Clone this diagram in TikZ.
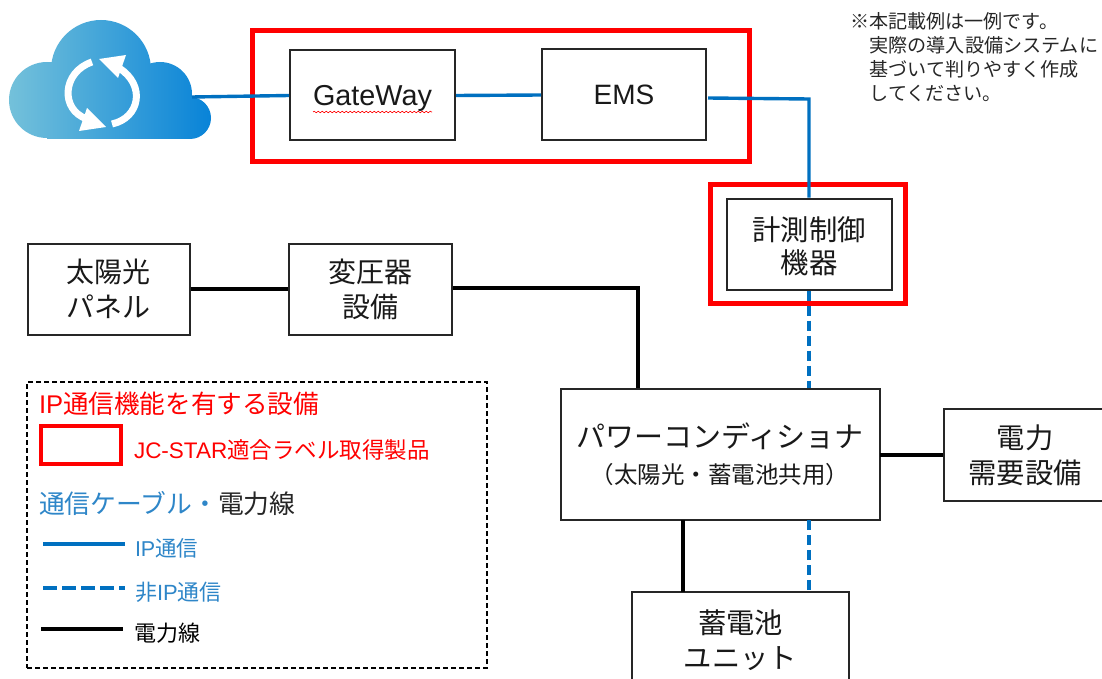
\documentclass[tikz,border=0pt]{standalone}
\usepackage{fontspec}
\setmainfont{Noto Sans CJK JP}
\newfontfamily\ltn{Liberation Sans}
\usetikzlibrary{decorations.pathmorphing}
\newcommand{\fs}[2]{\fontsize{#1pt}{#2pt}\selectfont}
\definecolor{ipblue}{HTML}{0070C0}
\definecolor{txtblue}{HTML}{2E86C8}
\definecolor{jcred}{HTML}{FF0000}
\tikzset{
  box/.style={draw=black!85,line width=2pt,fill=white,align=center,inner sep=0pt,text=black!90},
  redbox/.style={draw=jcred,line width=5pt,inner sep=0pt},
  ipline/.style={draw=ipblue,line width=3.4pt},
  nonip/.style={draw=ipblue,line width=3.4pt,dash pattern=on 10pt off 5pt},
  power/.style={draw=black,line width=3.4pt},
  lbl/.style={anchor=west,inner sep=0pt,outer sep=0pt},
  note/.style={lbl,text=black!85},
}
\begin{document}
\begin{tikzpicture}[x=1pt,y=-1pt]
\useasboundingbox (0,0) rectangle (1102,679);
\clip (0,0) rectangle (1102,679);
% cloud
\shade[left color={rgb,255:red,116;green,193;blue,218},right color={rgb,255:red,8;green,131;blue,216}]
  (101,70) circle[radius=50pt] (47,100) circle[radius=38pt] (160,94) circle[radius=32pt]
  (190,118) circle[radius=21pt]
  (47,139) -- (190,139) -- (190,90) -- (47,90) -- cycle;
\draw[white,line width=7pt] (92,62) .. controls (62,72) and (60,110) .. (87,119);
\draw[white,line width=7pt] (119,68) .. controls (146,85) and (140,118) .. (112,124);
\fill[white] (99,59) -- (126,55) -- (118,78) -- cycle;
\fill[white] (79,131) -- (106,127) -- (87,108) -- cycle;
\coordinate (cloudR) at (192,97);
% boxes
\node[redbox,minimum width=497pt,minimum height=131pt] (redtop) at (501,96) {};
\node[redbox,minimum width=195pt,minimum height=119pt] (redmeas) at (808,244) {};
\node[box,minimum width=165pt,minimum height=90pt,font=\fs{28.8}{35}\ltn] (gw) at (372.5,95.5) {\raisebox{-10pt}[0pt][0pt]{GateWay}};
\node[box,minimum width=164pt,minimum height=91pt,font=\fs{28}{35}\ltn] (ems) at (624,95) {EMS};
\node[box,minimum width=165pt,minimum height=91pt] (meas) at (809,244) {};
\node[inner sep=0pt,align=center,font=\fs{28.4}{33},text=black!90] (meastxt) at (809,246) {計測制御\\機器};
\node[box,minimum width=162pt,minimum height=91pt,font=\fs{28}{35}] (panel) at (108.5,289) {太陽光\\パネル};
\node[box,minimum width=163pt,minimum height=91pt,font=\fs{28}{35}] (trans) at (370,289) {変圧器\\設備};
\node[box,minimum width=319pt,minimum height=131pt,font=\fs{29}{36}] (pcs) at (720,454) {パワーコンディショナ\\{\fs{23.5}{33}（太陽光・蓄電池共用）}};
\node[box,minimum width=163pt,minimum height=92pt] (demand) at (1025,454.5) {};
\node[inner sep=0pt,align=center,font=\fs{28.3}{35},text=black!90] (demandtxt) at (1025,455.5) {電力\\需要設備};
\node[box,minimum width=217pt,minimum height=96pt,font=\fs{28.3}{35}] (batt) at (740.5,640) {蓄電池\\ユニット};
% wavy underline of GateWay
\coordinate (wavyL) at (313,112);
\coordinate (wavyR) at (432,112);
\draw[jcred,line width=0.6pt,decorate,decoration={snake,amplitude=0.8pt,segment length=4pt}] (wavyL) -- (wavyR);
% junctions
\coordinate (emsOut) at (708,98);
\coordinate (corner1) at (809,99);
\coordinate (transOut) at (453,288);
\coordinate (corner2) at (638,288);
\coordinate (pcsT) at (638,388);
\coordinate (pcsTd) at (809,388);
\coordinate (pcsBp) at (683,520);
\coordinate (battP) at (683,592);
\coordinate (pcsBd) at (809,520);
\coordinate (battD) at (809,592);
\coordinate (pcsR) at (880,455);
\coordinate (demL) at (943,455);
% connectors
\draw[ipline] (cloudR) -- (gw.west);
\draw[ipline] (gw.east) -- (ems.west);
\draw[ipline] (emsOut) -- (corner1) -- (meas.north);
\draw[nonip] (meas.south) -- (pcsTd);
\draw[nonip] (pcsBd) -- (battD);
\draw[power] (panel.east) -- (trans.west);
\draw[power] (transOut) -- (corner2) -- (pcsT);
\draw[power] (pcsR) -- (demL);
\draw[power] (pcsBp) -- (battP);
% note
\node[note] (n1) at (850,21) {\fs{19.1}{24}※本記載例は一例です。};
\node[note] (n2) at (869.5,45) {\fs{19.1}{24}実際の導入設備システムに};
\node[note] (n3) at (869.5,69) {\fs{19.1}{24}基づいて判りやすく作成};
\node[note] (n4) at (869.5,93) {\fs{19.1}{24}してください。};
% legend
\node[draw=black,line width=2pt,dash pattern=on 5pt off 3pt,minimum width=460pt,minimum height=286pt,inner sep=0pt] (legend) at (257,525) {};
\node[lbl,text=jcred] (l1) at (39,404) {\fs{25.6}{30}{\ltn IP}通信機能を有する設備};
\node[draw=jcred,line width=4pt,minimum width=80pt,minimum height=38pt,inner sep=0pt] (lred) at (80.5,445) {};
\node[lbl,text=jcred] (l2) at (134,450) {\fs{22.5}{26}{\ltn JC-STAR}適合ラベル取得製品};
\node[lbl] (l3) at (39,504) {\fs{25.8}{30}\textcolor{txtblue}{通信ケーブル・}\textcolor{black!85}{電力線}};
\coordinate (a1) at (43,544); \coordinate (a2) at (125,544);
\coordinate (b1) at (43,588); \coordinate (b2) at (125,588);
\coordinate (c1) at (41,629); \coordinate (c2) at (123,629);
\draw[ipline,line width=4pt] (a1) -- (a2);
\draw[nonip,line width=4pt,dash pattern=on 14pt off 5pt] (b1) -- (b2);
\draw[power,line width=4pt] (c1) -- (c2);
\node[lbl,text=txtblue] (l4) at (135,548) {\fs{21.5}{26}{\ltn IP}通信};
\node[lbl,text=txtblue] (l5) at (135,592) {\fs{22}{26}非{\ltn IP}通信};
\node[lbl,text=black] (l6) at (134,633) {\fs{22}{26}電力線};
\end{tikzpicture}
\end{document}
